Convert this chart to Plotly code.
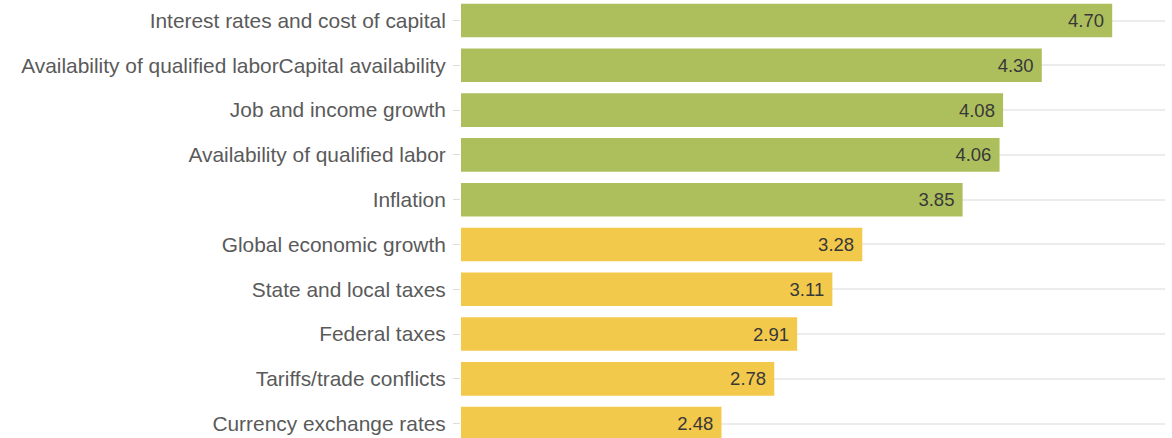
import plotly.graph_objects as go

categories = [
    "Interest rates and cost of capital",
    "Availability of qualified laborCapital availability",
    "Job and income growth",
    "Availability of qualified labor",
    "Inflation",
    "Global economic growth",
    "State and local taxes",
    "Federal taxes",
    "Tariffs/trade conflicts",
    "Currency exchange rates",
]
values = [4.70, 4.30, 4.08, 4.06, 3.85, 3.28, 3.11, 2.91, 2.78, 2.48]
groups = ["high"] * 5 + ["low"] * 5

color_map = {"high": "#adbf5d", "low": "#f3c94c"}
colors = [color_map[g] for g in groups]

fig = go.Figure(
    go.Bar(
        x=values,
        y=categories,
        orientation="h",
        marker=dict(color=colors, line=dict(width=0)),
        text=[f"{v:.2f}\u00a0" for v in values],
        textposition="inside",
        insidetextanchor="end",
        textangle=0,
        textfont=dict(family="Liberation Sans, Arial", size=18.5, color="#383838"),
        width=0.75,
    )
)

fig.update_layout(
    width=1172,
    height=438,
    margin=dict(l=461, r=7, t=0, b=0),
    paper_bgcolor="white",
    plot_bgcolor="white",
    showlegend=False,
    uniformtext=dict(minsize=18, mode="show"),
    font=dict(family="Liberation Sans, Arial", size=20.9, color="#5a5a5a"),
)
fig.update_xaxes(
    range=[1, 5],
    showgrid=False,
    showticklabels=False,
    zeroline=False,
    showline=False,
    ticks="",
)
fig.update_yaxes(
    categoryorder="array",
    categoryarray=categories,
    range=[9.32, -0.458],
    showgrid=True,
    gridcolor="#ececec",
    gridwidth=1.5,
    ticks="outside",
    ticklen=7,
    tickcolor="#dddddd",
    ticklabelstandoff=3,
    showline=False,
    zeroline=False,
    tickfont=dict(family="Liberation Sans, Arial", size=20.9, color="#5a5a5a"),
)

fig.write_html("out.html")
